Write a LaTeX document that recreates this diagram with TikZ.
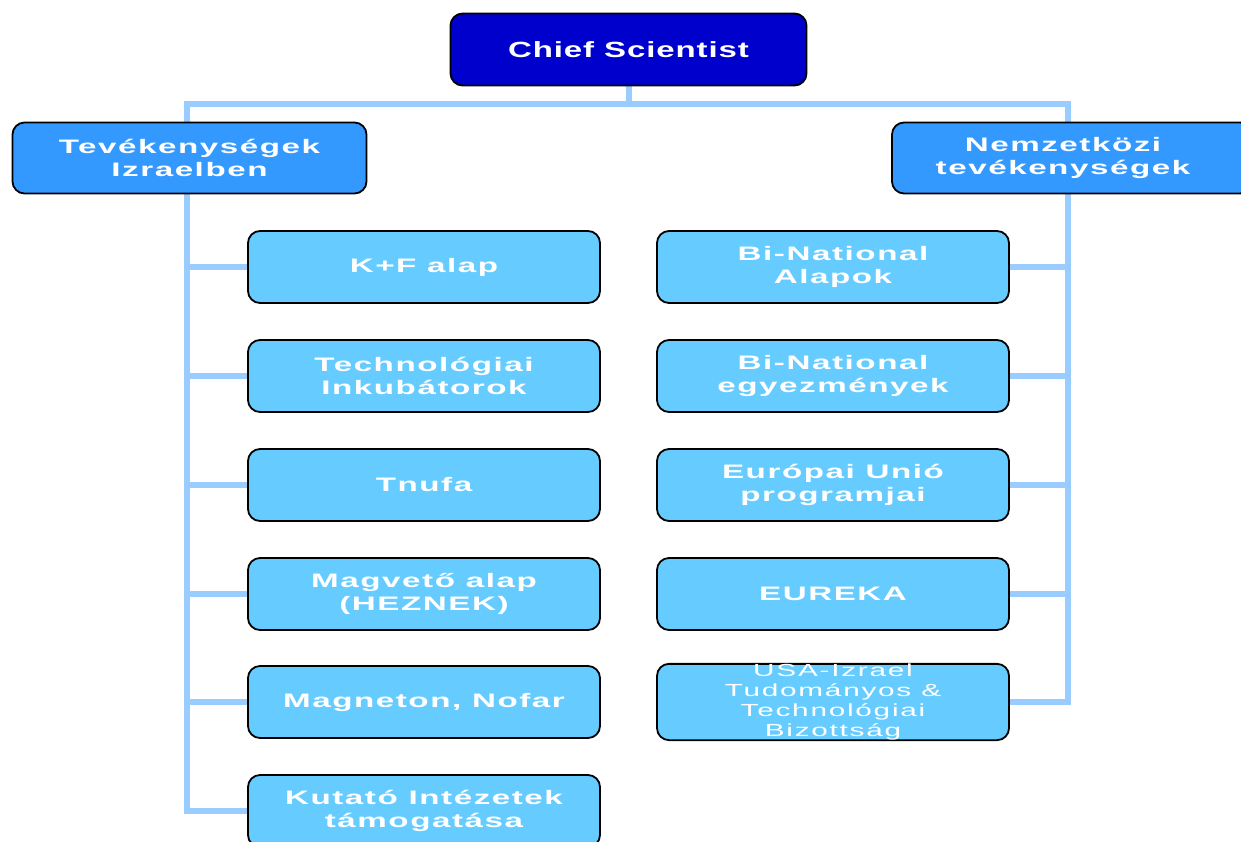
\documentclass[tikz,border=0pt]{standalone}
\usepackage{fontspec}
\newfontfamily\boxfont[FakeStretch=1.7,LetterSpace=8]{Liberation Sans}
\newfontfamily\smallfont[FakeStretch=1.7,LetterSpace=10]{Liberation Sans}
\newfontfamily\chieffont[FakeStretch=1.5,LetterSpace=4]{Liberation Sans}
\definecolor{chiefblue}{HTML}{0000CC}
\definecolor{headblue}{HTML}{3399FF}
\definecolor{subblue}{HTML}{66CCFF}
\definecolor{linkblue}{HTML}{99CCFF}
\pgfdeclarelayer{bg}
\pgfsetlayers{bg,main}
\tikzset{
  box/.style={draw=black, line width=1.8pt, rounded corners=12pt, inner sep=0pt,
    text=white, align=center},
  chiefbox/.style={box, fill=chiefblue, minimum width=356pt, minimum height=72pt,
    font=\chieffont\bfseries\fontsize{22}{26}\selectfont},
  headbox/.style={box, fill=headblue, minimum height=71pt,
    font=\boxfont\bfseries\fontsize{19.5}{22.5}\selectfont},
  subbox/.style={box, fill=subblue, minimum width=352pt, minimum height=72pt,
    font=\boxfont\bfseries\fontsize{19.5}{23}\selectfont},
  txt/.style={text=white, align=center, inner sep=0pt,
    font=\boxfont\bfseries\fontsize{19.5}{22.5}\selectfont},
  link/.style={draw=linkblue, line width=6pt, line join=miter}
}
\begin{document}
\begin{tikzpicture}[x=1pt,y=-1pt]
\useasboundingbox (0,0) rectangle (1241,841);
\clip (0,0) rectangle (1241,841);
% coordinates of the tree
\coordinate (hl) at (187,104);
\coordinate (hr) at (1068,104);
% nodes
\node[chiefbox] (chief) at (628.5,49.5) {Chief Scientist};
\node[headbox, minimum width=354pt] (israel) at (189.5,158) {Tevékenységek\\Izraelben};
\node[headbox, minimum width=360pt] (intl) at (1072,158) {};
\node[txt] (intltext) at (1063,158) {Nemzetközi\\tevékenységek};
\node[subbox] (l1) at (424,267) {K+F alap};
\node[subbox] (l2) at (424,376) {Technológiai\\Inkubátorok};
\node[subbox] (l3) at (424,485) {Tnufa};
\node[subbox] (l4) at (424,594) {Magvető alap\\(HEZNEK)};
\node[subbox] (l5) at (424,702) {Magneton, Nofar};
\node[subbox] (l6) at (424,811) {Kutató Intézetek\\támogatása};
\node[subbox] (r1) at (833,267) {Bi-National\\Alapok};
\node[subbox] (r2) at (833,376) {Bi-National\\egyezmények};
\node[subbox] (r3) at (833,485) {Európai Unió\\programjai};
\node[subbox] (r4) at (833,594) {EUREKA};
\node[subbox, font=\smallfont\fontsize{17.5}{20}\selectfont] (r5) at (833,702)
  {USA-Izrael\\Tudományos \&\\Technológiai\\Bizottság};
% connectors (drawn behind the boxes)
\begin{pgfonlayer}{bg}
\draw[link] (chief.south) -- (chief.south |- hl);
\draw[link] (l6.west) -- (hl |- l6) -- (hl) -- (hr) -- (hr |- r5) -- (r5.east);
\draw[link] (hl |- l1) -- (l1.west);
\draw[link] (hl |- l2) -- (l2.west);
\draw[link] (hl |- l3) -- (l3.west);
\draw[link] (hl |- l4) -- (l4.west);
\draw[link] (hl |- l5) -- (l5.west);
\draw[link] (hr |- r1) -- (r1.east);
\draw[link] (hr |- r2) -- (r2.east);
\draw[link] (hr |- r3) -- (r3.east);
\draw[link] (hr |- r4) -- (r4.east);
\end{pgfonlayer}
\end{tikzpicture}
\end{document}
